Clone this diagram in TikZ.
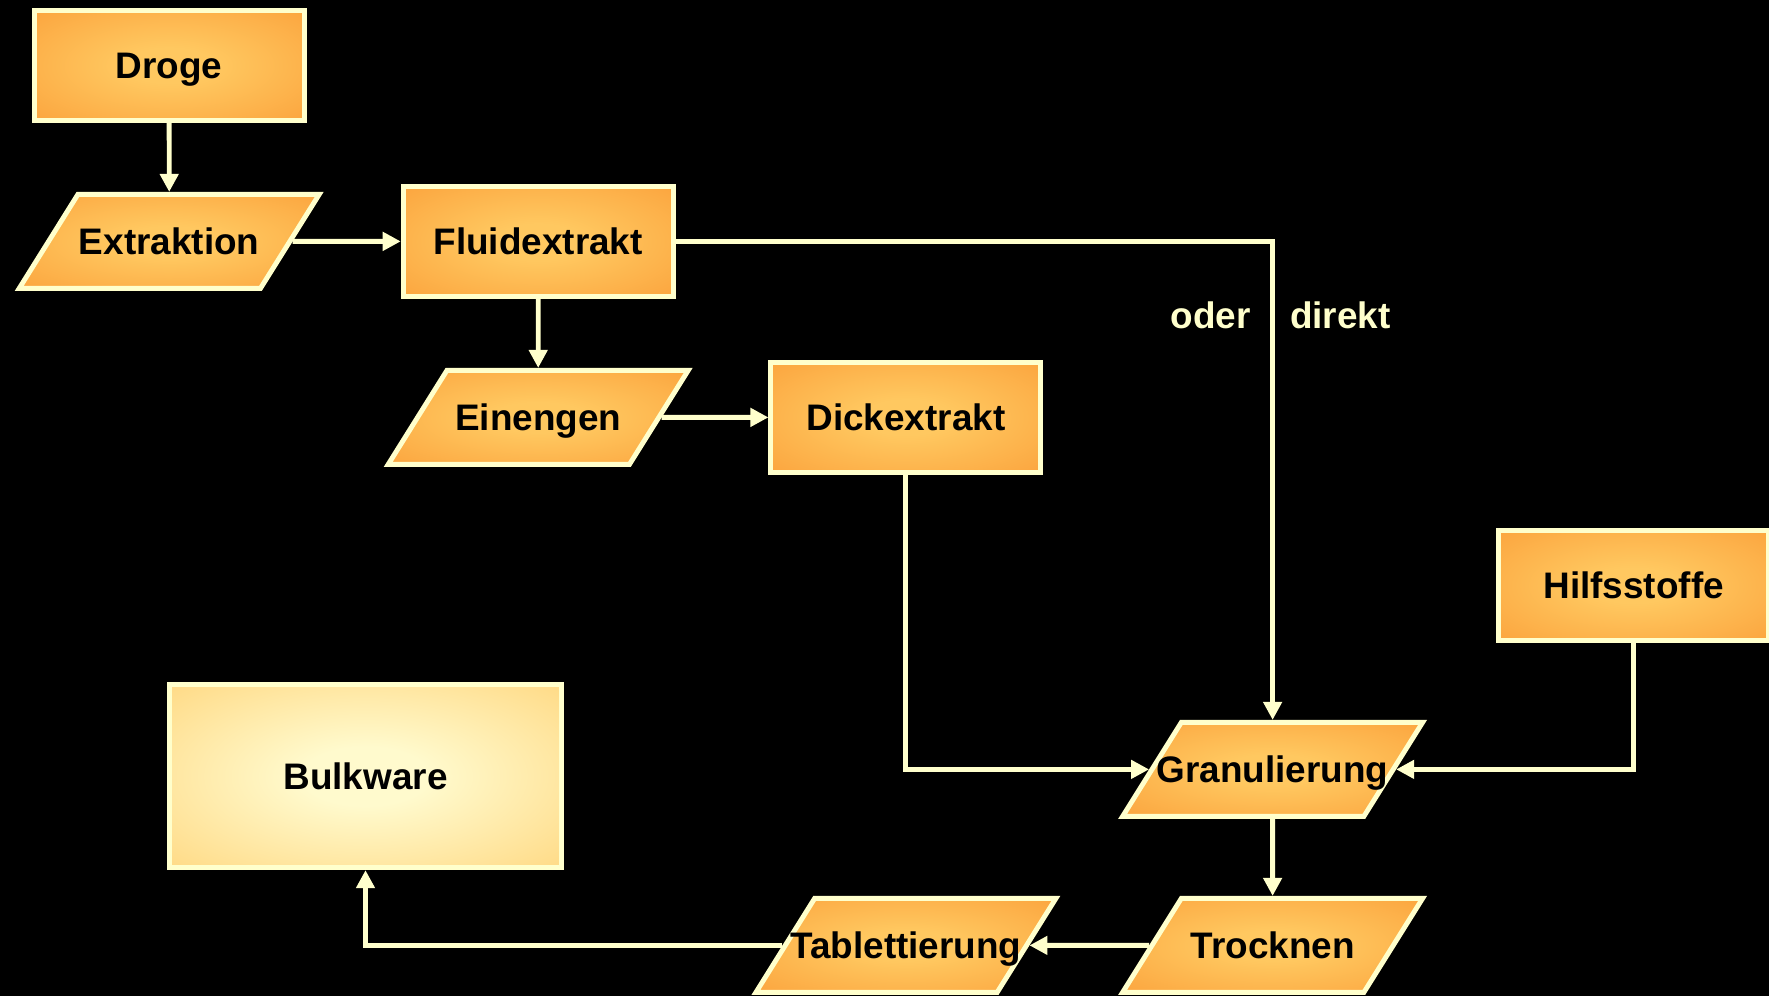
\documentclass[tikz,border=0pt]{standalone}
\usepackage{fontspec}
\setmainfont{Liberation Sans}
\usepackage{xcolor}
\usepackage{tikz}
\usetikzlibrary{shapes,arrows.meta,positioning,calc}

\definecolor{cream}{RGB}{255,255,204}
\definecolor{glowin}{RGB}{255,200,96}
\definecolor{glowout}{RGB}{250,152,50}
\definecolor{bulkin}{RGB}{255,250,205}
\definecolor{bulkout}{RGB}{255,204,102}
\pgfdeclareradialshading{orangeglow}{\pgfpoint{0bp}{0bp}}{color(0bp)=(glowin); color(8bp)=(glowin); color(46bp)=(glowout); color(100bp)=(glowout)}
\pgfdeclareradialshading{bulkglow}{\pgfpoint{0bp}{0bp}}{color(0bp)=(bulkin); color(8bp)=(bulkin); color(48bp)=(bulkout); color(100bp)=(bulkout)}

\begin{document}
\begin{tikzpicture}[
    txt/.style={font=\fontsize{10.5}{12}\selectfont\bfseries, text height=3.65mm, text depth=1mm},
    box/.style={txt, draw=cream, line width=1.4pt, shading=orangeglow, minimum width=2.7cm, minimum height=1.1cm},
    proc/.style={txt, trapezium, trapezium left angle=58, trapezium right angle=122, trapezium stretches body,
        draw=cream, line width=1.4pt, shading=orangeglow, minimum width=3cm, inner ysep=2.375mm, inner xsep=-5mm},
    link/.style={cream, line width=1.4pt, -{Triangle[length=1.8mm,width=1.8mm]}},
    lbl/.style={txt, text=cream}
]
    \fill[black] (0,0) rectangle (17.69,9.96);
    \useasboundingbox (0,0) rectangle (17.69,9.96);

    \node[box] (droge) at (1.692, 9.306) {Droge};
    \node[proc] (extr) at (1.692, 7.546) {Extraktion};
    \node[box] (fluid) at (5.382, 7.546) {Fluidextrakt};
    \node[proc] (eineng) at (5.382, 5.786) {Einengen};
    \node[box] (dick) at (9.059, 5.786) {Dickextrakt};
    \node[box] (hilfs) at (16.336, 4.105) {Hilfsstoffe};
    \node[proc] (granu) at (12.726, 2.266) {Granulierung};
    \node[proc] (trock) at (12.726, 0.506) {Trocknen};
    \node[proc] (tabl) at (9.059, 0.506) {Tablettierung};
    \node[box, shading=bulkglow, minimum width=3.92cm, minimum height=1.83cm] (bulk) at (3.655, 2.198) {Bulkware};

    \node[lbl] (oder) at (12.106, 6.812) {oder};
    \node[lbl] (direkt) at (13.403, 6.812) {direkt};

    \draw[link] (droge) -- (extr);
    \draw[link] (extr) -- (fluid);
    \draw[link] (fluid) -- (eineng);
    \draw[link] (eineng) -- (dick);
    \draw[link] (fluid) -| (granu); % oder direkt
    \draw[link] (dick) |- (granu);
    \draw[link] (hilfs) |- (granu);
    \draw[link] (granu) -- (trock);
    \draw[link] (trock) -- (tabl);
    \draw[link] (tabl) -| (bulk);
\end{tikzpicture}
\end{document}
